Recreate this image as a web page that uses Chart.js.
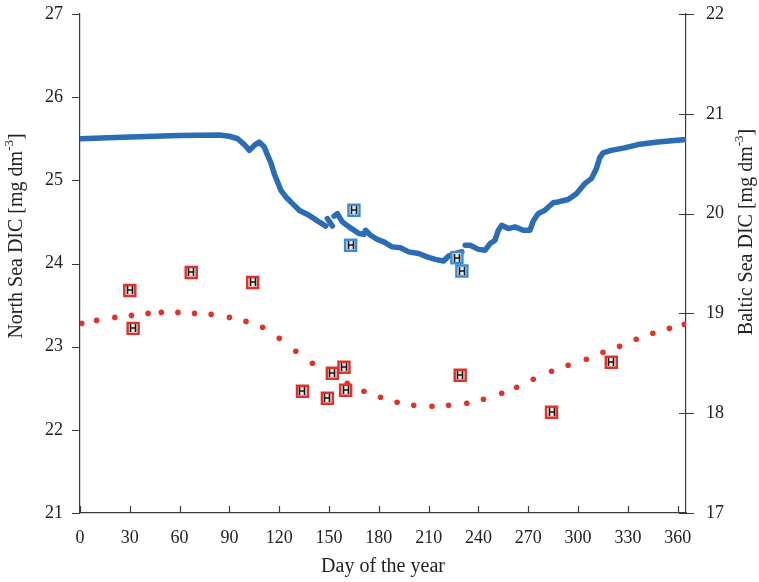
<!DOCTYPE html>
<html>
<head>
<meta charset="utf-8">
<script src="https://cdn.jsdelivr.net/npm/chart.js@4.4.0/dist/chart.umd.min.js"></script>
<style>
  html, body { margin: 0; padding: 0; background: #fff; }
  #wrap { width: 759px; height: 582px; }
</style>
</head>
<body>
<div id="wrap"><canvas id="dicChart"></canvas></div>
<script>
// axis ticks
const dayTicks = [0, 30, 60, 90, 120, 150, 180, 210, 240, 270, 300, 330, 360];
const northTicks = [21, 22, 23, 24, 25, 26, 27];
const balticTicks = [17, 18, 19, 20, 21, 22];

// North Sea model run (left axis), null = gap in the run
const northDays = [0, 30, 60, 84, 90, 95, 99, 102, 105, 108, 111, 113, 115, 117, 119, 121, 124, 128, 132, 137,
  141, 144, 148, 148.5, 149, 152, 152.5, 153, 155, 158, 162, 168, 171, 172, 175, 179, 183, 188, 193, 198,
  204, 209, 214, 219, 222, 226, 230, 231, 232, 235, 240, 244, 247, 250, 252, 254, 258, 262, 267, 271,
  273, 276, 280, 285, 288, 294, 299, 304, 308, 311, 313, 315, 320, 328, 336, 348, 365];
const northModel = [25.50, 25.52, 25.54, 25.545, 25.53, 25.50, 25.43, 25.36, 25.42, 25.46, 25.40, 25.30, 25.21, 25.08, 24.98, 24.88, 24.80, 24.72, 24.64, 24.59,
  24.54, 24.50, 24.45, null, 24.54, 24.45, null, 24.57, 24.60, 24.50, 24.44, 24.36, 24.35, 24.40, 24.34, 24.29, 24.26, 24.20, 24.19, 24.14,
  24.12, 24.08, 24.05, 24.03, 24.09, 24.12, 24.14, null, 24.22, 24.22, 24.17, 24.16, 24.24, 24.28, 24.40, 24.46, 24.42, 24.44, 24.40, 24.40,
  24.51, 24.60, 24.64, 24.73, 24.74, 24.77, 24.84, 24.96, 25.02, 25.14, 25.27, 25.33, 25.36, 25.39, 25.43, 25.46, 25.49];

// North Sea measurements
const northObsDays = [163, 165, 227, 230];
const northObs = [24.22, 24.64, 24.07, 23.91];

// Baltic Sea model run (right axis)
const balticDays = [1, 10, 21, 31, 41, 49, 59, 69, 79, 90, 100, 110, 120, 130, 140, 152, 161, 171, 181, 191,
  201, 212, 222, 233, 243, 254, 263, 273, 284, 294, 305, 315, 325, 335, 345, 355, 364];
const balticModel = [18.90, 18.93, 18.96, 18.98, 19.00, 19.01, 19.01, 19.00, 18.99, 18.96, 18.92, 18.86, 18.75, 18.62, 18.50, 18.41, 18.30, 18.22, 18.16, 18.11,
  18.08, 18.07, 18.08, 18.10, 18.14, 18.20, 18.26, 18.34, 18.42, 18.48, 18.54, 18.61, 18.67, 18.74, 18.80, 18.85, 18.89];

// Baltic Sea measurements
const balticObsDays = [30, 32, 67, 104, 134, 149, 152, 159, 160, 229, 284, 320];
const balticObs = [19.23, 18.85, 19.41, 19.31, 18.22, 18.15, 18.40, 18.46, 18.23, 18.38, 18.01, 18.51];

const pairs = (xs, ys) => xs.map((x, i) => ({ x: x, y: ys[i] }));

const blue = "#2a6db4";
const red = "#e0312a";
const serif = "'Liberation Serif', 'Times New Roman', serif";
const axisColor = "#3a3a3a";

// small tick marks: x ticks point up into the plot, left ticks point out, right ticks cross the axis
const tickMarks = {
  id: "tickMarks",
  afterDraw(chart) {
    const { ctx, chartArea: a } = chart;
    const x = chart.scales.x, yn = chart.scales.yN, yb = chart.scales.yB;
    ctx.save();
    ctx.strokeStyle = axisColor;
    ctx.lineWidth = 1.2;
    ctx.beginPath();
    dayTicks.forEach(v => {
      const px = Math.round(x.getPixelForValue(v)) + 0.5;
      ctx.moveTo(px, a.bottom);
      ctx.lineTo(px, a.bottom - 7);
    });
    northTicks.forEach(v => {
      const py = Math.round(yn.getPixelForValue(v)) + 0.5;
      ctx.moveTo(a.left, py);
      ctx.lineTo(a.left - 8, py);
    });
    balticTicks.forEach(v => {
      const py = Math.round(yb.getPixelForValue(v)) + 0.5;
      ctx.moveTo(a.right - 7, py);
      ctx.lineTo(a.right + 8, py);
    });
    ctx.stroke();
    ctx.restore();
  }
};

// axis titles with a superscript exponent
function drawTitle(ctx, cx, cy, rot, main, sup, tail) {
  const big = "20px " + serif, small = "13px " + serif;
  ctx.save();
  ctx.translate(cx, cy);
  ctx.rotate(rot);
  ctx.fillStyle = "#222";
  ctx.textBaseline = "middle";
  ctx.font = big;
  const w1 = ctx.measureText(main).width;
  const w3 = tail ? ctx.measureText(tail).width : 0;
  ctx.font = small;
  const w2 = sup ? ctx.measureText(sup).width : 0;
  let x0 = -(w1 + w2 + w3) / 2;
  ctx.font = big;
  ctx.fillText(main, x0, 0);
  if (sup) {
    ctx.font = small;
    ctx.fillText(sup, x0 + w1, -7);
    ctx.font = big;
    ctx.fillText(tail, x0 + w1 + w2, 0);
  }
  ctx.restore();
}

const axisTitles = {
  id: "axisTitles",
  afterDraw(chart) {
    const ctx = chart.ctx, a = chart.chartArea;
    drawTitle(ctx, (a.left + a.right) / 2, 567, 0, "Day of the year");
    drawTitle(ctx, 17, 236, -Math.PI / 2, "North Sea DIC [mg dm", "-3", "]");
    drawTitle(ctx, 747, 232, -Math.PI / 2, "Baltic Sea DIC [mg dm", "-3", "]");
  }
};

// error-bar glyph inside each measurement square
const obsGlyph = {
  id: "obsGlyph",
  afterDatasetsDraw(chart) {
    const ctx = chart.ctx;
    ctx.save();
    ctx.strokeStyle = "#151515";
    ctx.lineWidth = 1.6;
    [0, 1].forEach(di => {
      chart.getDatasetMeta(di).data.forEach(pt => {
        const px = Math.round(pt.x), py = Math.round(pt.y);
        ctx.beginPath();
        ctx.moveTo(px - 2.5, py - 4); ctx.lineTo(px - 2.5, py + 4);
        ctx.moveTo(px + 2.5, py - 4); ctx.lineTo(px + 2.5, py + 4);
        ctx.moveTo(px - 2.5, py); ctx.lineTo(px + 2.5, py);
        ctx.stroke();
      });
    });
    ctx.restore();
  }
};

const fixTicks = list => scale => { scale.ticks = list.map(v => ({ value: v })); };
const fitY = w => s => { s.width = w; s.paddingTop = 0; s.paddingBottom = 0; };

new Chart(document.getElementById("dicChart"), {
  type: "scatter",
  data: {
    datasets: [
      {
        label: "North Sea measured",
        data: pairs(northObsDays, northObs),
        yAxisID: "yN",
        pointStyle: "rect",
        pointRadius: 7.8,
        borderWidth: 2.4,
        borderColor: "#3f8bd3",
        backgroundColor: "#e9edf1",
      },
      {
        label: "Baltic Sea measured",
        data: pairs(balticObsDays, balticObs),
        yAxisID: "yB",
        pointStyle: "rect",
        pointRadius: 7.8,
        borderWidth: 2.4,
        borderColor: red,
        backgroundColor: "#eee8e8",
      },
      {
        label: "North Sea model",
        data: pairs(northDays, northModel),
        yAxisID: "yN",
        showLine: true,
        spanGaps: false,
        borderColor: blue,
        borderWidth: 5.5,
        borderCapStyle: "round",
        borderJoinStyle: "round",
        pointRadius: 0,
      },
      {
        label: "Baltic Sea model",
        data: pairs(balticDays, balticModel),
        yAxisID: "yB",
        pointRadius: 2.8,
        borderWidth: 0,
        backgroundColor: red,
      },
    ],
  },
  options: {
    responsive: true,
    maintainAspectRatio: false,
    animation: false,
    devicePixelRatio: 1,
    layout: { padding: { top: 14, left: 0, right: 0, bottom: 0 } },
    scales: {
      x: {
        type: "linear",
        min: 0,
        max: 365,
        afterBuildTicks: fixTicks(dayTicks),
        afterFit: s => { s.height = 69; s.paddingLeft = 0; s.paddingRight = 0; },
        grid: { display: false, drawTicks: false, tickLength: 0 },
        border: { display: true, color: axisColor, width: 1.2 },
        ticks: { font: { family: serif, size: 18 }, color: "#222", padding: 14, maxRotation: 0, autoSkip: false },
      },
      yN: {
        position: "left",
        min: 21,
        max: 27,
        afterBuildTicks: fixTicks(northTicks),
        afterFit: fitY(80),
        grid: { display: false, drawTicks: false, tickLength: 0 },
        border: { display: true, color: axisColor, width: 1.2 },
        ticks: { font: { family: serif, size: 18 }, color: "#222", padding: 17 },
      },
      yB: {
        position: "right",
        min: 17,
        max: 22,
        afterBuildTicks: fixTicks(balticTicks),
        afterFit: fitY(73),
        grid: { display: false, drawTicks: false, tickLength: 0 },
        border: { display: true, color: axisColor, width: 1.2 },
        ticks: { font: { family: serif, size: 18 }, color: "#222", padding: 20 },
      },
    },
    plugins: {
      legend: { display: false },
      tooltip: { enabled: false },
    },
  },
  plugins: [tickMarks, axisTitles, obsGlyph],
});
</script>
</body>
</html>
